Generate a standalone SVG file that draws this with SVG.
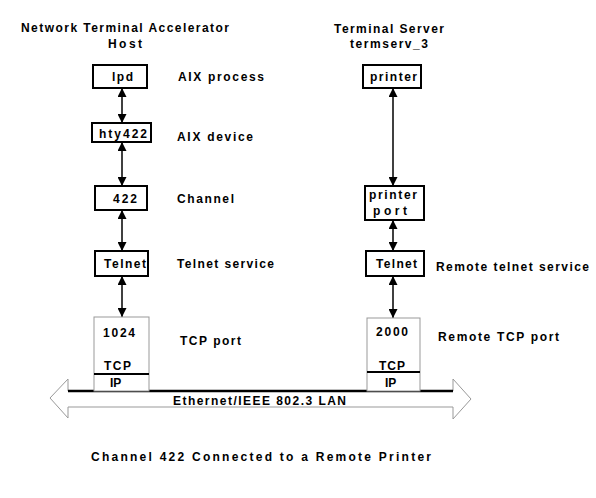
<svg xmlns="http://www.w3.org/2000/svg" width="596" height="498" viewBox="0 0 596 498">
<style>
text{font-family:"Liberation Sans",Arial,sans-serif;font-weight:bold;font-size:12px;fill:#000}
.box{fill:#fff;stroke:#000;stroke-width:2}
.stack{fill:#fff;stroke:#999;stroke-width:1}
.conn{stroke:#000;stroke-width:1.5;fill:none;marker-start:url(#ah);marker-end:url(#ah)}
</style>
<defs>
<marker id="ah" viewBox="0 0 10 10" refX="10" refY="5" markerWidth="9" markerHeight="9" markerUnits="userSpaceOnUse" orient="auto-start-reverse">
<path d="M0,0 L10,5 L0,10 Z" fill="#000"/>
</marker>
</defs>
<rect width="596" height="498" fill="#fff"/>

<g id="titles">
<text x="21" y="32" textLength="208" lengthAdjust="spacing">Network Terminal Accelerator</text>
<text x="108" y="48" textLength="34" lengthAdjust="spacing">Host</text>
<text x="334" y="33" textLength="110" lengthAdjust="spacing">Terminal Server</text>
<text x="350" y="48" textLength="78" lengthAdjust="spacing">termserv_3</text>
</g>

<g id="lan">
<polygon points="50,398 68,379 68,391 453,391 453,379 471,399 453,419 453,407 68,407 68,418" fill="#fff" stroke="#999" stroke-width="1"/>
<line x1="68" y1="391" x2="453" y2="391" stroke="#000" stroke-width="2.5"/>
<text x="173" y="405" textLength="173" lengthAdjust="spacing">Ethernet/IEEE 802.3 LAN</text>
</g>

<g id="connectors">
<line class="conn" x1="122" y1="88" x2="122" y2="123"/>
<line class="conn" x1="122" y1="142" x2="122" y2="186"/>
<line class="conn" x1="122" y1="210" x2="122" y2="251"/>
<line class="conn" x1="122" y1="276" x2="122" y2="317"/>
<line class="conn" x1="393" y1="88" x2="393" y2="186"/>
<line class="conn" x1="393" y1="220" x2="393" y2="251"/>
<line class="conn" x1="393" y1="276" x2="393" y2="318"/>
</g>

<g id="lpd">
<rect class="box" x="93" y="65" width="54" height="23"/>
<text x="112" y="81" textLength="21" lengthAdjust="spacing">lpd</text>
<text x="178" y="81" textLength="86" lengthAdjust="spacing">AIX process</text>
</g>
<g id="hty422">
<rect class="box" x="92" y="123" width="59" height="19"/>
<text x="99" y="138" textLength="48" lengthAdjust="spacing">hty422</text>
<text x="177" y="141" textLength="76" lengthAdjust="spacing">AIX device</text>
</g>
<g id="ch422">
<rect class="box" x="95" y="186" width="52" height="24"/>
<text x="113" y="203" textLength="24" lengthAdjust="spacing">422</text>
<text x="177" y="203" textLength="57" lengthAdjust="spacing">Channel</text>
</g>
<g id="telnet-left">
<rect class="box" x="95" y="251" width="53" height="25"/>
<text x="104" y="268" textLength="42" lengthAdjust="spacing">Telnet</text>
<text x="177" y="268" textLength="97" lengthAdjust="spacing">Telnet service</text>
</g>
<g id="tcp-left">
<rect class="stack" x="94" y="317" width="55" height="74"/>
<line x1="94" y1="374" x2="149" y2="374" stroke="#000" stroke-width="2"/>
<text x="103" y="337" textLength="32" lengthAdjust="spacing">1024</text>
<text x="104" y="370" textLength="27" lengthAdjust="spacing">TCP</text>
<text x="110" y="387">IP</text>
<text x="180" y="345" textLength="61" lengthAdjust="spacing">TCP port</text>
</g>

<g id="printer">
<rect class="box" x="363" y="65" width="58" height="23"/>
<text x="370" y="81" textLength="47" lengthAdjust="spacing">printer</text>
</g>
<g id="printer-port">
<rect class="box" x="365" y="186" width="59" height="34"/>
<text x="369" y="199" textLength="48" lengthAdjust="spacing">printer</text>
<text x="373" y="215" textLength="34" lengthAdjust="spacing">port</text>
</g>
<g id="telnet-right">
<rect class="box" x="366" y="251" width="58" height="25"/>
<text x="376" y="268" textLength="41" lengthAdjust="spacing">Telnet</text>
<text x="436" y="271" textLength="153" lengthAdjust="spacing">Remote telnet service</text>
</g>
<g id="tcp-right">
<rect class="stack" x="367" y="318" width="53" height="73"/>
<line x1="367" y1="372" x2="420" y2="372" stroke="#000" stroke-width="2"/>
<text x="376" y="336" textLength="32" lengthAdjust="spacing">2000</text>
<text x="379" y="370" textLength="26" lengthAdjust="spacing">TCP</text>
<text x="385" y="387">IP</text>
<text x="438" y="341" textLength="121" lengthAdjust="spacing">Remote TCP port</text>
</g>

<g id="caption">
<text x="91" y="461" textLength="340" lengthAdjust="spacing">Channel 422 Connected to a Remote Printer</text>
</g>
</svg>
